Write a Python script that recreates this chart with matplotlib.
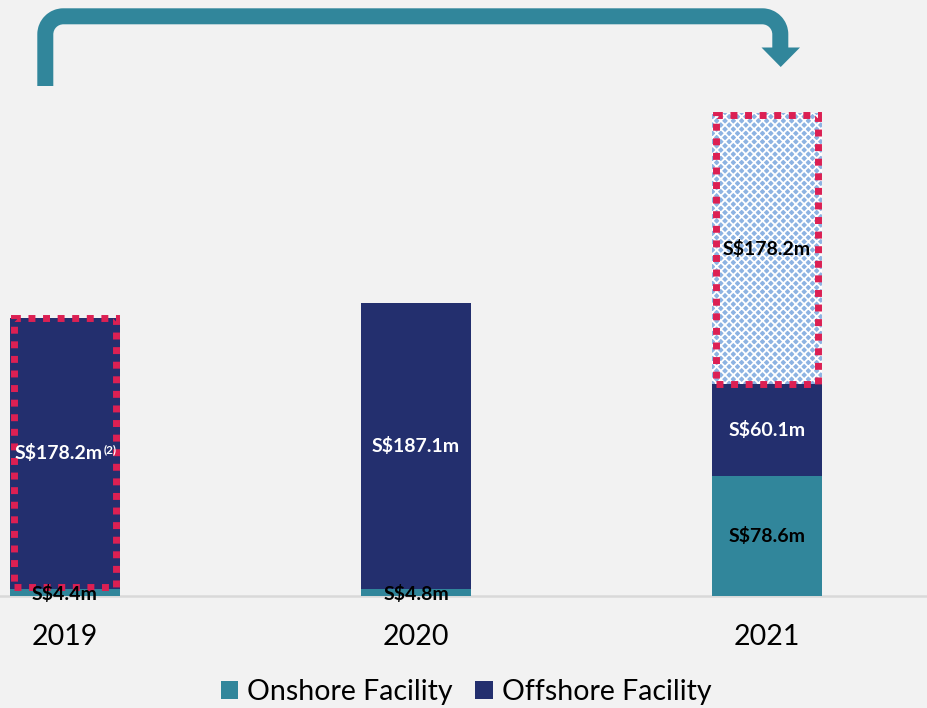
import matplotlib
matplotlib.use("Agg")
import matplotlib.pyplot as plt
from matplotlib.patches import Patch, Polygon, PathPatch, Rectangle
from matplotlib.path import Path

plt.rcParams['font.family'] = ['Lato', 'DejaVu Sans']
plt.rcParams['hatch.linewidth'] = 1.3

years = ["2019", "2020", "2021"]
onshore = [4.4, 4.8, 78.6]
offshore = [178.2, 187.1, 60.1]
extra = [0, 0, 178.2]
onshore_labels = ["S$4.4m", "S$4.8m", "S$78.6m"]
offshore_labels = ["S$178.2m", "S$187.1m", "S$60.1m"]
extra_label = "S$178.2m"

BG = "#f2f2f2"
TEAL = "#31869b"
NAVY = "#232f6e"
PINK = "#dc2053"
HATCHFACE = "#8db3e2"

W, H = 928, 708
fig = plt.figure(figsize=(W / 100, H / 100), dpi=100, facecolor=BG)

base_px = 596
scale = 1.525
ax = fig.add_axes([0, (H - base_px) / H, 1, base_px / H])
ax.set_facecolor(BG)
spacing = 351
x0 = 65
ax.set_xlim(-x0 / spacing, (W - x0) / spacing)
ax.set_ylim(0, base_px / scale)
bw = 110 / spacing
xs = list(range(len(years)))

ax.bar(xs, onshore, width=bw, color=TEAL, zorder=2)
ax.bar(xs, offshore, width=bw, bottom=onshore, color=NAVY, zorder=2)
bot2 = [a + b for a, b in zip(onshore, offshore)]
ax.bar(xs[2], extra[2], width=bw, bottom=bot2[2], color=HATCHFACE,
       edgecolor="white", hatch="xxxx", linewidth=0, zorder=2)

# dotted highlight rectangles
dash = dict(fill=False, edgecolor=PINK, linewidth=5, linestyle=(0, (1.0, 1.1)),
            zorder=4, clip_on=False, capstyle="butt")
ax.add_patch(Rectangle((xs[0] - bw / 2 + 0.01, onshore[0] + 1.5), bw - 0.02, offshore[0] - 1.5, **dash))
ax.add_patch(Rectangle((xs[2] - bw / 2 + 0.01, bot2[2]), bw - 0.02, extra[2] - 1.5, **dash))

for s in ax.spines.values():
    s.set_visible(False)
ax.axhline(0, color="#d9d9d9", lw=1.8, zorder=1, clip_on=False)
ax.set_yticks([])
ax.set_xticks(xs)
ax.set_xticklabels(years, fontsize=20.5, color="black")
ax.tick_params(axis="x", length=0, pad=20)

FS = 14
lab = dict(ha="center", va="center", fontsize=FS, fontweight="bold", zorder=5)
on_colors = ["black", "black", "black"]
off_colors = ["white", "white", "white"]
for i in xs:
    if i == 0:
        continue
    ax.text(xs[i], onshore[i] / 2 if i == 2 else 1.5, onshore_labels[i],
            color=on_colors[i], parse_math=False, **lab)
    ax.text(xs[i], onshore[i] + offshore[i] / 2,
            offshore_labels[i], color=off_colors[i], parse_math=False, **lab)
# 2019 labels
ax.text(xs[0], 1.5, onshore_labels[0], color="black", parse_math=False, **lab)
xsplit = xs[0] + 38 / spacing
ax.text(xsplit, onshore[0] + offshore[0] / 2, offshore_labels[0], color="white",
        parse_math=False, ha="right", va="center", fontsize=FS,
        fontweight="bold", zorder=5)
ax.text(xsplit + 0.003, onshore[0] + offshore[0] / 2 + 2.5, "(2)", color="white",
        fontsize=8.5, fontweight="bold", ha="left", va="center", zorder=5)
ax.text(xs[2], bot2[2] + extra[2] / 2, extra_label, color="black",
        parse_math=False, **lab)

# legend
handles = [Patch(facecolor=TEAL, edgecolor="none"), Patch(facecolor=NAVY, edgecolor="none")]
fig.legend(handles, ["Onshore Facility", "Offshore Facility"], loc="center",
           bbox_to_anchor=(466 / W, 1 - 692 / H), ncol=2, frameon=False,
           fontsize=20.5, handlelength=0.62, handleheight=0.62, handletextpad=0.3,
           columnspacing=0.8, borderpad=0)

# arrow overlay
ov = fig.add_axes([0, 0, 1, 1], zorder=10)
ov.set_xlim(0, W)
ov.set_ylim(H, 0)
ov.axis("off")
ov.patch.set_alpha(0)
r = 18
xl, xr, yt, yb, ye = 45.3, 780.3, 16.3, 86, 48
k = 0.5523
verts = [(xl, yb), (xl, yt + r),
         (xl, yt + r - k * r), (xl + r - k * r, yt), (xl + r, yt),
         (xr - r, yt),
         (xr - r + k * r, yt), (xr, yt + r - k * r), (xr, yt + r),
         (xr, ye)]
codes = [Path.MOVETO, Path.LINETO, Path.CURVE4, Path.CURVE4, Path.CURVE4,
         Path.LINETO, Path.CURVE4, Path.CURVE4, Path.CURVE4, Path.LINETO]
ov.add_patch(PathPatch(Path(verts, codes), fill=False, edgecolor=TEAL,
                       linewidth=16 * 0.72, capstyle="butt", joinstyle="round"))
ov.add_patch(Polygon([(761.5, 47.5), (800, 47.5), (780.7, 67)], closed=True,
                     facecolor=TEAL, edgecolor="none"))

fig.savefig("out.png", dpi=100, facecolor=BG)
